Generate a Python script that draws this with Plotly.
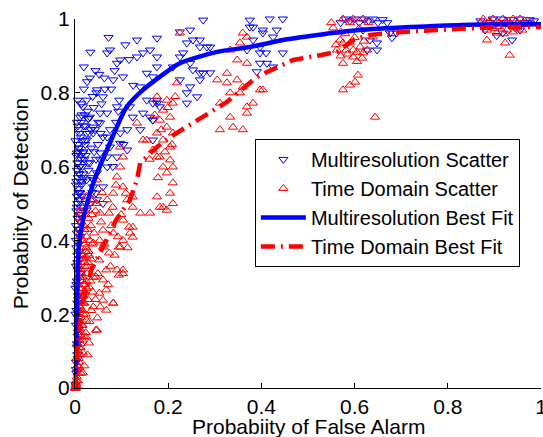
import plotly.graph_objects as go

# ---------------- data ----------------
multi_x = [0.001,0.003,0.002,0.005,0.004,0.006,0.002,0.008,0.003,0.005,0.007,0.001,0.004,0.009,0.006,0.002,0.010,0.005,0.003,0.008,
           0.012,0.004,0.007,0.002,0.011,0.006,0.009,0.003,0.013,0.005,0.008,0.015,0.004,0.010,0.007,0.014,0.002,0.012,0.006,0.017,
           0.009,0.004,0.016,0.011,0.007,0.020,0.013,0.003,0.018,0.009,0.022,0.006,0.015,0.012,0.025,0.008,0.019,0.004,0.028,0.014,
           0.004,0.011,0.025,0.047,0.069,0.075,0.090,0.097,0.103,0.082,0.060,0.054,0.039,0.025,0.017,0.075,0.097,0.069,0.047,0.025,
           0.133,0.133,0.146,0.161,0.176,0.154,0.140,0.154,0.176,0.146,0.167,0.140,0.124,0.118,0.167,0.075,0.054,0.039,0.032,0.060,0.045,
           0.247,0.240,0.225,0.210,0.268,0.283,0.253,0.268,0.240,0.275,
           0.375,0.382,0.397,0.412,0.425,0.403,0.425,0.390,0.369,0.433,0.375,
           0.176,0.225,0.275,0.268,0.290,0.253,0.232,0.247,0.268,0.290,0.225,0.247,0.262,0.240,0.176,0.167,0.176,0.161,
           0.382,0.403,0.418,0.446,0.397,0.410,0.397,0.446,
           0.017,0.032,0.054,0.069,0.090,0.039,0.060,0.097,0.054,0.090,0.112,0.032,0.069,0.039,0.060,0.011,0.047,0.025,0.167,0.182,0.167,
           0.580,0.600,0.620,0.640,0.660,0.618,0.633,0.648,0.627,0.648,0.676,0.680,0.690,
           0.897,0.915,0.935,0.955,0.976,0.938,0.955,0.976,0.918,0.880,0.900,0.940]
multi_y = [0.01,0.04,0.07,0.09,0.12,0.14,0.17,0.19,0.21,0.23,0.25,0.27,0.29,0.30,0.32,0.33,0.35,0.36,0.38,0.39,
           0.41,0.42,0.43,0.44,0.45,0.46,0.47,0.48,0.49,0.50,0.51,0.52,0.52,0.53,0.54,0.55,0.55,0.56,0.57,0.57,
           0.58,0.59,0.60,0.60,0.61,0.62,0.62,0.63,0.64,0.65,0.66,0.66,0.67,0.68,0.69,0.70,0.71,0.72,0.73,0.74,
           0.637,0.734,0.780,0.808,0.908,0.916,0.880,0.889,0.843,0.835,0.789,0.745,0.707,0.672,0.637,0.700,0.663,0.626,0.583,0.564,
           0.943,0.897,0.908,0.916,0.870,0.853,0.816,0.780,0.772,0.745,0.726,0.700,0.734,0.762,0.672,0.653,0.618,0.545,0.500,0.500,0.528,
           0.970,0.935,0.897,0.870,0.943,0.924,0.862,0.835,0.800,0.853,
           0.978,0.943,0.908,0.880,0.870,0.962,0.951,0.857,0.916,0.970,0.997,
           0.948,0.965,0.997,0.924,0.924,0.943,0.908,0.880,0.854,0.854,0.835,0.816,0.789,0.772,0.897,0.843,0.780,0.734,
           0.978,0.970,1.000,1.000,0.924,0.908,0.880,0.908,
           0.762,0.734,0.718,0.745,0.762,0.691,0.680,0.691,0.637,0.626,0.645,0.610,0.599,0.564,0.545,0.528,0.510,0.482,0.772,0.762,0.726,
           1.000,1.000,1.000,1.000,0.998,0.970,0.943,0.935,0.916,0.916,0.962,0.949,0.962,
           1.000,1.000,0.998,1.000,0.998,0.943,0.970,0.989,0.962,0.970,0.985,0.985]

multi_extra_x = [0.002,0.006,0.004,0.009,0.001,0.007,0.003,0.011,0.005,0.008,0.002,0.010,0.006,0.004,0.012,0.007,0.003,0.009,0.005,0.013,
                 0.008,0.001,0.010,0.006,
                 0.018,0.028,0.035,0.043,0.021,0.031,0.050,0.014,0.038,0.026,0.057,0.044,0.019,0.033,0.052,0.029,0.064,0.041,0.023,0.036,
                 0.078,0.085,0.063,0.095,0.108,0.072,0.116,0.088,0.125,0.104,0.069,0.093,0.081,0.112,
                 0.870,0.890,0.925,0.945,0.965,0.985,0.905,
                 0.590,0.610,0.630,0.650,0.670,0.570,
                 0.012,0.024,0.037,0.016,0.029,0.045,0.008,0.021,0.034,0.049,0.013,0.027,0.040,0.006,0.019,0.032,0.055,0.010,0.023,0.046]
multi_extra_y = [0.05,0.08,0.11,0.16,0.20,0.24,0.28,0.31,0.34,0.37,0.40,0.43,0.46,0.49,0.51,0.53,0.56,0.58,0.61,0.63,
                 0.65,0.67,0.69,0.71,
                 0.58,0.61,0.65,0.70,0.74,0.69,0.72,0.77,0.79,0.83,0.77,0.86,0.87,0.91,0.85,0.73,0.81,0.64,0.63,0.57,
                 0.81,0.86,0.84,0.78,0.93,0.95,0.89,0.72,0.82,0.66,0.68,0.75,0.60,0.70,
                 0.995,0.990,0.990,0.975,0.990,0.995,0.955,
                 0.995,0.990,0.995,0.990,0.990,0.990,
                 0.47,0.50,0.53,0.56,0.59,0.62,0.64,0.67,0.70,0.66,0.72,0.75,0.76,0.78,0.81,0.84,0.69,0.60,0.71,0.80]

time_x = [0.000,0.001,0.002,0.003,0.004,0.006,0.005,0.008,0.003,0.010,0.007,0.012,0.004,0.009,0.014,0.006,0.011,0.016,0.008,0.013,
          0.018,0.005,0.015,0.010,0.020,0.012,0.007,0.017,0.022,0.014,0.009,0.019,0.024,0.011,0.016,0.026,0.013,0.021,0.008,0.028,
          0.018,0.015,0.030,0.023,0.012,0.020,0.032,0.017,0.025,0.010,0.027,0.034,0.019,0.014,0.029,0.036,0.022,0.016,0.031,0.038,
          0.000,0.002,0.001,0.004,
          0.088,0.109,0.124,0.045,0.073,0.103,0.116,0.060,0.082,0.103,0.124,0.039,0.060,0.073,0.094,0.024,0.052,0.067,0.103,0.094,
          0.045,0.060,0.030,0.067,0.052,0.082,0.060,0.067,0.039,0.024,0.045,0.024,0.030,0.017,0.009,0.002,0.017,
          0.225,0.360,0.354,0.333,0.348,0.369,0.326,0.348,0.305,0.360,0.354,0.333,0.311,0.369,0.333,0.369,0.311,0.339,0.360,0.403,
          0.176,0.197,0.210,0.189,0.204,0.182,0.197,0.176,0.210,0.189,0.204,0.154,0.167,0.182,0.204,0.189,0.210,0.197,0.210,0.204,
          0.176,0.189,0.133,0.146,0.097,0.103,0.097,0.090,0.103,0.082,0.112,0.124,0.047,0.047,0.054,0.140,0.161,
          0.197,0.182,0.210,0.124,0.118,0.097,0.090,0.103,0.082,0.054,0.047,
          0.369,0.219,0.326,0.397,0.382,0.176,
          0.575,0.597,0.618,0.554,0.569,0.575,0.590,0.597,0.562,0.582,0.612,0.597,0.618,0.575,0.575,0.590,0.601,0.607,0.644,0.616,
          0.627,0.639,0.585,0.605,0.570,
          0.884,0.923,0.933,0.876,0.897,0.918,0.940,0.955,0.884,0.905,0.927,0.948,0.910,0.930,0.965]
time_y = [0.00,0.00,0.01,0.02,0.03,0.04,0.06,0.07,0.08,0.09,0.10,0.11,0.12,0.13,0.14,0.15,0.16,0.17,0.18,0.19,
          0.20,0.20,0.21,0.22,0.23,0.24,0.24,0.25,0.26,0.27,0.27,0.28,0.29,0.30,0.30,0.31,0.32,0.33,0.33,0.34,
          0.35,0.36,0.36,0.37,0.38,0.39,0.40,0.40,0.41,0.42,0.43,0.44,0.44,0.45,0.46,0.47,0.48,0.49,0.50,0.51,
          0.000,0.000,0.005,0.005,
          0.550,0.528,0.518,0.500,0.474,0.455,0.436,0.428,0.420,0.400,0.409,0.393,0.382,0.366,0.382,0.355,0.347,0.320,0.320,0.306,
          0.301,0.293,0.274,0.266,0.257,0.230,0.238,0.211,0.220,0.184,0.157,0.138,0.122,0.095,0.057,0.014,0.041,
          0.962,0.962,0.935,0.916,0.889,0.880,0.853,0.835,0.835,0.816,0.800,0.800,0.772,0.762,0.734,0.745,0.700,0.707,0.700,0.808,
          0.789,0.780,0.772,0.753,0.734,0.726,0.707,0.691,0.691,0.672,0.653,0.672,0.645,0.626,0.618,0.599,0.599,0.583,0.556,0.528,
          0.518,0.490,0.718,0.672,0.653,0.626,0.599,0.572,0.545,0.528,0.510,0.490,0.564,0.500,0.474,0.474,0.474,
          0.482,0.490,0.500,0.436,0.420,0.382,0.320,0.310,0.230,0.220,0.157,
          0.951,0.827,0.827,0.808,0.772,0.626,
          1.000,1.000,1.000,0.976,0.943,0.935,0.935,0.916,0.916,0.916,0.924,0.897,0.908,0.880,0.808,0.821,0.829,0.848,0.734,0.894,
          0.916,0.951,0.905,0.885,0.900,
          0.943,0.935,0.902,1.000,1.000,1.000,1.000,1.000,0.970,0.962,0.970,0.976,0.990,0.985,0.985]

time_extra_x = [0.004,0.008,0.012,0.006,0.015,0.010,0.018,0.007,0.021,0.013,0.005,0.017,0.024,0.011,0.020,0.009,0.026,0.016,0.014,0.023,
                0.019,0.028,0.012,0.025,
                0.034,0.041,0.056,0.063,0.078,0.085,0.049,0.071,0.092,0.038,0.058,0.044,0.069,0.081,0.099,0.113,0.053,0.076,
                0.185,0.199,0.171,0.208,0.193,0.178,0.215,0.160,
                0.560,0.580,0.600,0.620,0.590,0.610,0.570,0.630,0.550,0.605,
                0.870,0.890,0.910,0.930,0.950,0.970,0.900,0.920,0.940,0.960,
                0.006,0.013,0.020,0.027,0.009,0.016,0.023,0.031,0.011,0.018,0.025,0.033,0.014,0.021,0.029,0.037,0.040,0.044,0.048,0.035]
time_extra_y = [0.05,0.08,0.12,0.16,0.17,0.21,0.23,0.26,0.28,0.31,0.34,0.36,0.38,0.41,0.43,0.46,0.33,0.29,0.25,0.20,
                0.14,0.24,0.48,0.52,
                0.35,0.42,0.45,0.39,0.44,0.36,0.31,0.28,0.41,0.26,0.53,0.48,0.51,0.49,0.47,0.38,0.40,0.33,
                0.70,0.76,0.74,0.66,0.64,0.57,0.79,0.62,
                0.93,0.96,0.95,0.94,0.99,0.975,0.965,0.99,0.99,0.91,
                0.99,0.995,0.98,0.995,0.99,0.995,0.975,0.96,0.965,0.97,
                0.02,0.04,0.06,0.09,0.11,0.13,0.15,0.18,0.22,0.25,0.27,0.29,0.31,0.34,0.37,0.39,0.30,0.24,0.19,0.21]

multi_fit_x = [0.0, 0.003, 0.005, 0.008, 0.017, 0.039, 0.075, 0.11, 0.146, 0.225, 0.305, 0.375, 0.455, 0.61, 0.83, 1.0]
multi_fit_y = [0.0, 0.10, 0.25, 0.38, 0.455, 0.555, 0.664, 0.76, 0.808, 0.88, 0.911, 0.924, 0.945, 0.97, 0.984, 0.986]

time_fit_x = [0.0, 0.005, 0.015, 0.035, 0.067, 0.088, 0.118, 0.133, 0.14, 0.176, 0.204, 0.247, 0.285, 0.326, 0.39, 0.433,
              0.468, 0.526, 0.562, 0.60, 0.633, 0.725, 0.811, 0.905, 1.0]
time_fit_y = [0.0, 0.10, 0.22, 0.32, 0.40, 0.455, 0.51, 0.564, 0.61, 0.653, 0.68, 0.713, 0.74, 0.775, 0.843, 0.87,
              0.889, 0.902, 0.911, 0.945, 0.957, 0.967, 0.973, 0.978, 0.978]

x_ticks = [0, 0.2, 0.4, 0.6, 0.8, 1]
x_tick_labels = ["0", "0.2", "0.4", "0.6", "0.8", "1"]
y_ticks = [0, 0.2, 0.4, 0.6, 0.8, 1]
y_tick_labels = ["0", "0.2", "0.4", "0.6", "0.8", "1"]
x_title = "Probabiity of False Alarm"
y_title = "Probabiity of Detection"

FONT = "Liberation Sans, Arial, Helvetica, sans-serif"

fig = go.Figure()
fig.add_trace(go.Scatter(x=multi_x + multi_extra_x, y=multi_y + multi_extra_y, mode="markers",
                         name="Multiresolution Scatter", cliponaxis=False,
                         marker=dict(symbol="triangle-down-open", size=8, color="#0000ff",
                                     line=dict(width=1, color="#0000ff"))))
fig.add_trace(go.Scatter(x=time_x + time_extra_x, y=time_y + time_extra_y, mode="markers",
                         name="Time Domain Scatter", cliponaxis=False,
                         marker=dict(symbol="triangle-up-open", size=8, color="#ff0000",
                                     line=dict(width=1, color="#ff0000"))))
fig.add_trace(go.Scatter(x=multi_fit_x, y=multi_fit_y, mode="lines", name="Multiresolution Best Fit",
                         line=dict(color="#0000ff", width=4.5, shape="spline", smoothing=0.6)))
fig.add_trace(go.Scatter(x=time_fit_x, y=time_fit_y, mode="lines", name="Time Domain Best Fit",
                         line=dict(color="#ff0000", width=4.5, dash="14px,6px,2px,6px")))

fig.update_layout(
    width=543, height=437,
    margin=dict(l=75, r=2, t=19, b=49),
    paper_bgcolor="white", plot_bgcolor="white",
    font=dict(family=FONT, size=21, color="black"),
    showlegend=True,
    legend=dict(x=0.386, y=0.675, xanchor="left", yanchor="top",
                bgcolor="white", bordercolor="black", borderwidth=1,
                font=dict(family=FONT, size=20, color="black"),
                itemwidth=45, tracegroupgap=0),
    xaxis=dict(range=[0, 1], tickvals=x_ticks, ticktext=x_tick_labels,
               showline=True, linecolor="black", linewidth=1, mirror=False,
               ticks="inside", ticklen=5, tickcolor="black",
               showgrid=False, zeroline=False, automargin=False,
               ticklabeloverflow="allow", tickfont=dict(size=21)),
    yaxis=dict(range=[0, 1], tickvals=y_ticks, ticktext=y_tick_labels,
               showline=True, linecolor="black", linewidth=1, mirror=False,
               ticks="inside", ticklen=5, tickcolor="black",
               showgrid=False, zeroline=False, automargin=False,
               tickfont=dict(size=21),
               title=dict(text=y_title, font=dict(size=21), standoff=6)),
    annotations=[dict(text=x_title, xref="paper", yref="paper", x=0.5, y=-0.103,
                      xanchor="center", yanchor="middle", showarrow=False,
                      font=dict(family=FONT, size=21, color="black"))],
)

fig.write_html("out.html", config={"displayModeBar": False},
               post_script="document.body.style.margin='0';document.body.style.padding='0';")
